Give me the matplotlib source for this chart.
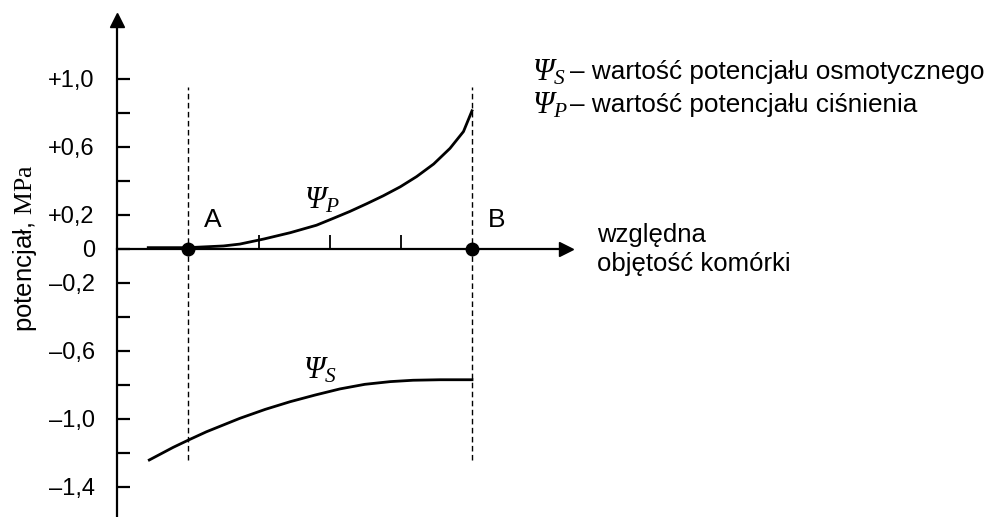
import numpy as np
import matplotlib.pyplot as plt

plt.rcParams.update({"font.family": "Liberation Sans", "font.size": 18.5})
plt.rcParams["mathtext.fontset"] = "custom"
plt.rcParams["mathtext.rm"] = "Liberation Serif:italic"
plt.rcParams["mathtext.it"] = "Liberation Serif:italic"
plt.rcParams["mathtext.bf"] = "Liberation Serif"

# dane (x: jednostki wzglednej objetosci, A=1, B=5)
psi_p_x = [0.44, 1.0, 1.5, 1.73, 2.07, 2.44, 2.81, 3.05, 3.28, 3.52,
           3.75, 3.99, 4.22, 4.46, 4.69, 4.88, 5.0]
psi_p_y = [0.005, 0.005, 0.015, 0.026, 0.056, 0.093, 0.137, 0.178, 0.218,
           0.264, 0.31, 0.363, 0.423, 0.497, 0.589, 0.688, 0.81]

psi_s_x = [0.455, 0.79, 1.01, 1.26, 1.73, 2.09, 2.44, 2.79, 3.14, 3.49, 3.85,
           4.17, 4.55, 5.0]
psi_s_y = [-1.244, -1.17, -1.126, -1.078, -0.999, -0.946, -0.901, -0.862,
           -0.826, -0.799, -0.783, -0.775, -0.772, -0.772]

punkty_x = [1, 5]
punkty_nazwy = ["A", "B"]
x_ticks = [2, 3, 4]

y_ticks = [-1.4, -1.2, -1.0, -0.8, -0.6, -0.4, -0.2, 0, 0.2, 0.4, 0.6, 0.8, 1.0]
y_labels = ["\u20131,4", "", "\u20131,0", "", "\u20130,6", "", "\u20130,2", "0",
            "+0,2", "", "+0,6", "", "+1,0"]

fig = plt.figure(figsize=(9.98, 5.17), dpi=100)
ax = fig.add_axes([0, 0, 1, 1])
ax.set_xlim(-117 / 71, (998 - 117) / 71)
ax.set_ylim(-268.5 / 170, 248.5 / 170)

for s in ["top", "right"]:
    ax.spines[s].set_visible(False)
ax.spines["left"].set_position(("data", 0))
ax.spines["bottom"].set_position(("data", 0))
ax.spines["left"].set_bounds(-1.6, 1.31)
ax.spines["bottom"].set_bounds(0, 6.22)
ax.spines["left"].set_linewidth(1.6)
ax.spines["bottom"].set_linewidth(1.6)

# strzalki osi
ax.plot([0], [1.347], marker="^", markersize=10.5, color="k", clip_on=False)
ax.plot([6.32], [0], marker=">", markersize=10.5, color="k", clip_on=False)

ax.set_yticks(y_ticks, y_labels)
ax.set_xticks(x_ticks, ["", "", ""])
ax.tick_params(axis="y", direction="in", length=9.5, width=1.6, pad=16, labelsize=17)
ax.tick_params(axis="x", direction="in", length=10, width=1.3)

ax.vlines(punkty_x, -1.244, 0.95, colors="k", linestyles=(0, (4, 2.5)), lw=1)

ax.plot(psi_p_x, psi_p_y, color="k", lw=2)
ax.plot(psi_s_x, psi_s_y, color="k", lw=2)
ax.plot(punkty_x, [0, 0], "o", color="k", markersize=9, zorder=5, clip_on=False)

for px, nazwa in zip(punkty_x, punkty_nazwy):
    ax.text(px + 0.35, 0.168, nazwa, ha="center", va="center", fontsize=19)

ax.text(2.887, 0.285, r"$\Psi_P$", ha="center", va="center", fontsize=22)
ax.text(2.859, -0.715, r"$\Psi_S$", ha="center", va="center", fontsize=22)

ax.text(6.76, -0.005, "względna\nobjętość komórki", ha="left", va="center",
        fontsize=18.5, linespacing=1.25)

# opis symboli
ax.text(5.845, 1.038, r"$\Psi_S$", ha="left", va="center", fontsize=22)
ax.text(6.38, 1.038, "\u2013 wartość potencjału osmotycznego",
        ha="left", va="center", fontsize=18.8)
ax.text(5.845, 0.844, r"$\Psi_P$", ha="left", va="center", fontsize=22)
ax.text(6.38, 0.844, "\u2013 wartość potencjału ciśnienia",
        ha="left", va="center", fontsize=18.8)

ax.text(-1.296, 0, "potencjał, $\\mathbf{MPa}$", rotation=90, ha="center",
        va="center", fontsize=18.5)

fig.savefig("out.png", dpi=100)
